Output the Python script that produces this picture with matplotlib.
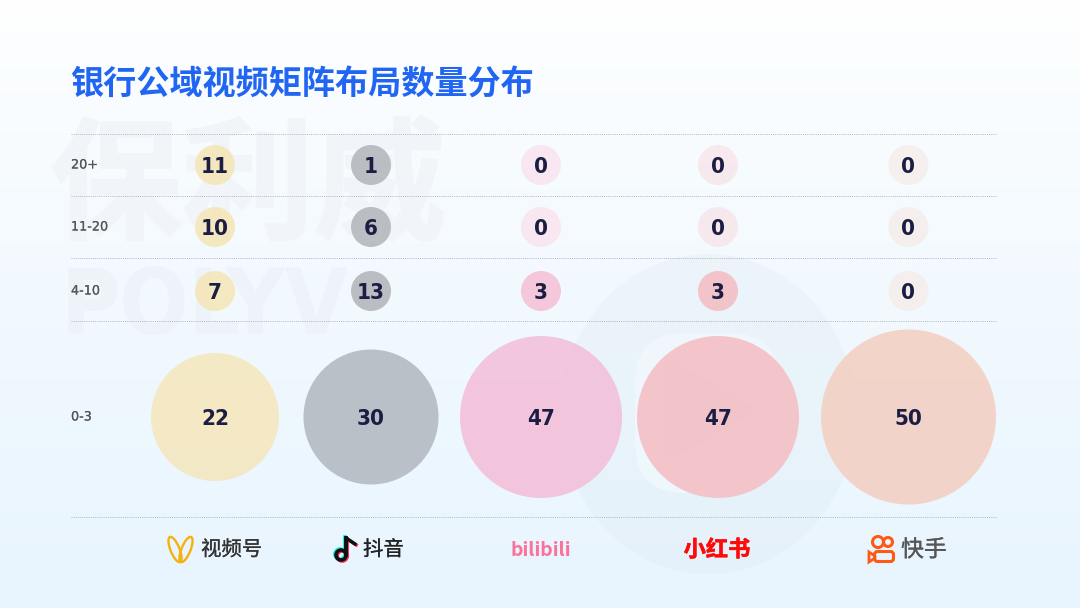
"""Bank public-domain video matrix: account count distribution bubble table."""

import matplotlib

matplotlib.use("Agg")

import matplotlib.patheffects as pe
import matplotlib.pyplot as plt
import numpy as np
from matplotlib.patches import Circle, Ellipse, FancyBboxPatch, Polygon

plt.rcParams["font.family"] = ["Noto Sans CJK SC", "DejaVu Sans"]

TITLE = "银行公域视频矩阵布局数量分布"
BUCKETS = ["20+", "11-20", "4-10", "0-3"]
PLATFORMS = ["视频号", "抖音", "bilibili", "小红书", "快手"]

SHIPINHAO = [11, 10, 7, 22]
DOUYIN = [1, 6, 13, 30]
BILIBILI = [0, 0, 3, 47]
XIAOHONGSHU = [0, 0, 3, 47]
KUAISHOU = [0, 0, 0, 50]

# layout, in reference pixels
COLUMN_X = [215, 371, 541, 718, 908.5]
ROW_Y = [165, 227, 291, 417]
GRID_Y = [133.5, 195.5, 258, 320.5, 517]
BOTTOM_RADIUS = [64, 67.5, 81, 81, 87.5]
SMALL_RADIUS = 20
COLUMN_COLORS = {
    "视频号": ["#F5E6B8", "#F5E6B8", "#F5E6B8", "#F5E7BE"],
    "抖音": ["#B3B6BB", "#B3B6BB", "#B3B6BB", "#B3B9C0"],
    "bilibili": ["#F9E5EF", "#F9E5EF", "#F6C0D6", "#F3BFD8"],
    "小红书": ["#F7E7EB", "#F7E7EB", "#F3BEC3", "#F4BFC4"],
    "快手": ["#F5EEEB", "#F5EEEB", "#F5EEEB", "#F3CFC2"],
}
INK = "#1B1D42"


def heavier(width, color):
    # thickens a regular face to the medium weight of the reference
    return [pe.withStroke(linewidth=width, foreground=color)]


def draw_background(ax):
    top = np.array([1.0, 1.0, 1.0])
    bottom = np.array([0.91, 0.96, 0.998])
    ramp = np.linspace(0, 1, 256)[:, None, None] ** 0.8
    ax.imshow(top + (bottom - top) * ramp, extent=(0, 1080, 608, 0), aspect="auto", zorder=0)

    ax.text(50, 190, "保利威", fontsize=95, fontweight="bold", color="#F1F5FA", va="center",
            path_effects=heavier(1.5, "#F1F5FA"), zorder=1)
    ax.text(60, 309, "POLYV", fontsize=65, fontweight="bold", color="#EDF3F9", va="center",
            family="DejaVu Sans", stretch="condensed", zorder=1)
    ax.add_patch(Polygon([(145, 298), (145, 320), (163, 309)], closed=True, fc="#F2F8FE", ec="none", zorder=1))

    ax.add_patch(Ellipse((708, 414), 295, 320, fc="#DDEAF2", ec="none", alpha=0.3, zorder=1))
    ax.add_patch(FancyBboxPatch((665, 363), 84, 100, boxstyle="round,pad=30,rounding_size=50",
                                fc="#F2FAFE", ec="none", alpha=0.7, zorder=1.1))
    ax.add_patch(Polygon([(670, 363), (750, 410), (670, 455)], closed=True, fc="#DDE8F0",
                         ec="#DDE8F0", lw=6, joinstyle="round", zorder=1.2))


def draw_grid(ax):
    for y in GRID_Y:
        ax.plot([71, 996], [y, y], color="#AEB6C0", lw=0.7, ls=(0, (1, 1.2)), zorder=2)


def draw_bubbles(ax):
    columns = [SHIPINHAO, DOUYIN, BILIBILI, XIAOHONGSHU, KUAISHOU]
    for col, (name, values) in enumerate(zip(PLATFORMS, columns)):
        for row, value in enumerate(values):
            radius = BOTTOM_RADIUS[col] if row == len(ROW_Y) - 1 else SMALL_RADIUS
            ax.add_patch(Circle((COLUMN_X[col], ROW_Y[row]), radius, fc=COLUMN_COLORS[name][row],
                                ec="none", alpha=0.88, zorder=3))
            ax.text(COLUMN_X[col], ROW_Y[row], str(value), ha="center", va="center_baseline",
                    fontsize=16, fontweight="bold", color=INK, family="DejaVu Sans",
                    stretch="condensed", zorder=4)


def draw_logos(ax):
    # 视频号 butterfly: two tilted loops crossing at the middle
    for cx, angle in [(175, -22), (186, 22)]:
        ax.add_patch(Ellipse((cx, 549.5), 9, 27, angle=angle, fc="none", ec="#F5B10C", lw=1.7, zorder=3))
    ax.text(201, 550, "视频号", fontsize=14.7, color="#333333", va="center",
            path_effects=heavier(0.15, "#333333"), zorder=3)

    # 抖音 note, drawn three times for the offset colour fringe
    for dx, dy, color in [(-1.2, -1, "#25F4EE"), (1.2, 1, "#FE2C55"), (0, 0, "#111111")]:
        ax.add_patch(Circle((341 + dx, 555 + dy), 5, fc="none", ec=color, lw=2.6, zorder=3))
        ax.plot([346 + dx, 346 + dx], [555 + dy, 538 + dy], color=color, lw=2.8, zorder=3)
        ax.plot([346 + dx, 355 + dx], [538 + dy, 544 + dy], color=color, lw=2.4, zorder=3)
    ax.text(363, 550, "抖音", fontsize=14.7, color="#222222", va="center",
            path_effects=heavier(0.15, "#222222"), zorder=3)

    ax.text(541, 550, "bilibili", fontsize=14, fontweight="bold", color="#FB7299", ha="center",
            va="center", zorder=3)
    ax.text(717, 550, "小红书", fontsize=16, fontweight="bold", color="#FF0A0A", ha="center", va="center",
            path_effects=heavier(0.4, "#FF0A0A"), zorder=3)

    # 快手 camera
    for x, y, r in [(878, 542, 5.5), (888, 542, 4.5)]:
        ax.add_patch(Circle((x, y), r, fc="none", ec="#FF5A13", lw=2.2, zorder=3))
    ax.add_patch(FancyBboxPatch((876, 553), 16, 7, boxstyle="round,pad=1.5,rounding_size=3",
                                fc="none", ec="#FF5A13", lw=2.2, zorder=3))
    ax.add_patch(Polygon([(869, 552), (875, 556), (875, 558), (869, 562)], closed=True, fc="none",
                         ec="#FF5A13", lw=2.0, zorder=3))
    ax.text(901, 550, "快手", fontsize=16.5, color="#555555", va="center",
            path_effects=heavier(0.2, "#555555"), zorder=3)


def main():
    fig = plt.figure(figsize=(10.8, 6.08), dpi=100)
    ax = fig.add_axes((0, 0, 1, 1))

    draw_background(ax)
    draw_grid(ax)
    draw_bubbles(ax)
    draw_logos(ax)

    ax.text(70, 85, TITLE, fontsize=23.9, fontweight="bold", color="#2166F3", va="center", zorder=5)
    for label, y in zip(BUCKETS, ROW_Y):
        ax.text(71, y, label, fontsize=9.2, color="#555555", va="center", family="DejaVu Sans",
                path_effects=heavier(0.1, "#555555"), zorder=5)

    ax.set_xlim(0, 1080)
    ax.set_ylim(608, 0)
    ax.axis("off")

    fig.savefig("out.png", dpi=100)


if __name__ == "__main__":
    main()
